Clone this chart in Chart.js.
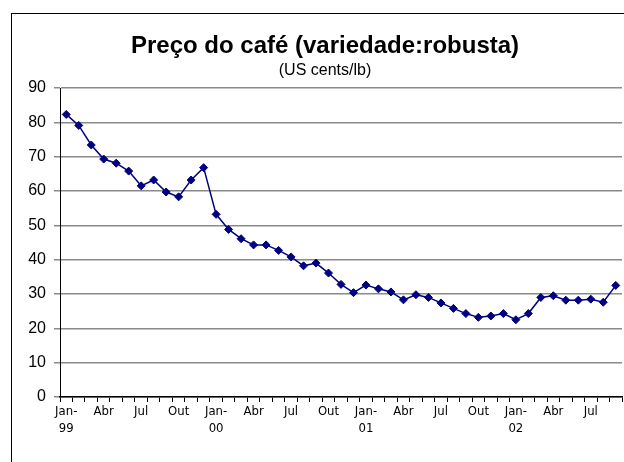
<!DOCTYPE html>
<html>
<head>
<meta charset="utf-8">
<script src="https://cdn.jsdelivr.net/npm/chart.js@4.4.0/dist/chart.umd.min.js"></script>
<style>
  html, body { margin: 0; padding: 0; background: #fff; overflow: hidden; width: 624px; height: 462px; }
  #frame { position: absolute; left: 11px; top: 13px; width: 700px; height: 500px;
           border-left: 1px solid #000; border-top: 1px solid #000; }
  #chart { position: absolute; left: 23px; top: 0; }
</style>
</head>
<body>
<div id="frame"></div>
<canvas id="chart" width="604" height="462"></canvas>
<script>
// monthly prices, Jan-99 .. Sep-02
var years = ["99", "00", "01", "02"]
var months = ["Jan", "Fev", "Mar", "Abr", "Mai", "Jun", "Jul", "Ago", "Set", "Out", "Nov", "Dez"]
var shownMonths = ["Jan", "Abr", "Jul", "Out"]
var prices1999 = [82.3, 79.1, 73.4, 69.3, 68.1, 65.8, 61.5, 63.2, 59.7, 58.3, 63.2, 66.8]
var prices2000 = [53.2, 48.8, 46.1, 44.3, 44.3, 42.7, 40.8, 38.2, 39.0, 36.1, 32.8, 30.4]
var prices2001 = [32.6, 31.5, 30.6, 28.3, 29.8, 29.0, 27.4, 25.8, 24.3, 23.2, 23.6, 24.3]
var prices2002 = [22.5, 24.3, 29.0, 29.5, 28.2, 28.2, 28.5, 27.6, 32.5]
var yTicks = [0, 10, 20, 30, 40, 50, 60, 70, 80, 90]

var prices = prices1999.concat(prices2000, prices2001, prices2002)
var labels = []
for (var i = 0; i < prices.length; i++) {
	var m = months[i % 12]
	var y = years[Math.floor(i / 12)]
	if (m == "Jan") labels.push(["Jan-", y])
	else if (shownMonths.indexOf(m) >= 0) labels.push(m)
	else labels.push("")
}

var ctx = document.getElementById("chart").getContext("2d")
new Chart(ctx, {
	type: "line",
	data: {
		labels: labels,
		datasets: [{
			data: prices,
			borderColor: "#000080",
			backgroundColor: "#000080",
			borderWidth: 1.5,
			pointStyle: "rectRot",
			pointRadius: 4,
			pointBorderWidth: 1,
			tension: 0
		}]
	},
	options: {
		responsive: false,
		animation: false,
		devicePixelRatio: 1,
		layout: { padding: 0 },
		plugins: {
			legend: { display: false },
			tooltip: { enabled: false },
			title: {
				display: true,
				text: "Preço do café (variedade:robusta)",
				color: "#000",
				font: { family: "Liberation Sans, Arial, sans-serif", size: 24, weight: "bold", lineHeight: 1.2 },
				padding: { top: 32, bottom: 0 }
			},
			subtitle: {
				display: true,
				text: "(US cents/lb)",
				color: "#000",
				font: { family: "Liberation Sans, Arial, sans-serif", size: 16, lineHeight: 1.2 },
				padding: { top: 0, bottom: 8 }
			}
		},
		scales: {
			x: {
				offset: true,
				grid: { display: true, drawOnChartArea: false, drawTicks: true, tickLength: 5, offset: true, color: "#000", lineWidth: 1 },
				border: { display: true, color: "#000", width: 1.5 },
				ticks: {
					autoSkip: false,
					maxRotation: 0,
					minRotation: 0,
					padding: 1,
					color: "#000",
					font: { family: "Liberation Sans Narrow, DejaVu Sans Condensed, sans-serif", size: 13, lineHeight: 1.3 }
				},
				afterFit: function(scale) { scale.height = 65 }
			},
			y: {
				min: 0,
				max: 90,
				afterBuildTicks: function(scale) {
					scale.ticks = yTicks.map(function(v) { return { value: v } })
				},
				grid: { color: "#8a8a8a", lineWidth: 1.5, tickLength: 6 },
				border: { display: true, color: "#000", width: 1 },
				ticks: {
					padding: 8,
					color: "#000",
					font: { family: "Liberation Sans, Arial, sans-serif", size: 16 }
				},
				afterFit: function(scale) { scale.width = 37 }
			}
		}
	}
})
</script>
</body>
</html>
